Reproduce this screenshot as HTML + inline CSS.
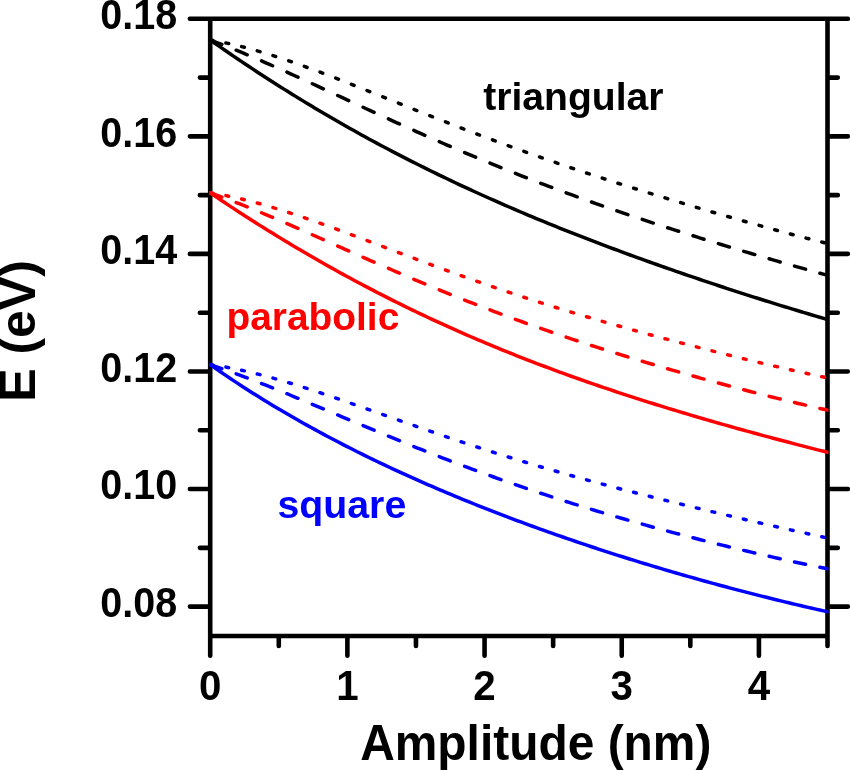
<!DOCTYPE html>
<html><head><meta charset="utf-8"><title>E vs Amplitude</title>
<style>
html,body{margin:0;padding:0;background:#fff;}
body{width:850px;height:770px;overflow:hidden;}
svg{display:block;}
text{font-family:"Liberation Sans",sans-serif;font-weight:bold;}
</style></head><body>
<svg width="850" height="770" viewBox="0 0 850 770">
<rect width="850" height="770" fill="#fff"/>
<defs><clipPath id="cp"><rect x="209.2" y="0" width="619.3" height="770"/></clipPath></defs>
<path d="M210.2,18.8 V655.7 M827.5,18.8 V645.9 M189.89999999999998,18.8 H847.8 M210.2,636.0 H827.5 M189.90,606.61 H210.2 M827.5,606.61 H847.80 M199.90,547.83 H210.2 M827.5,547.83 H837.80 M189.90,489.05 H210.2 M827.5,489.05 H847.80 M199.90,430.27 H210.2 M827.5,430.27 H837.80 M189.90,371.49 H210.2 M827.5,371.49 H847.80 M199.90,312.70 H210.2 M827.5,312.70 H837.80 M189.90,253.92 H210.2 M827.5,253.92 H847.80 M199.90,195.14 H210.2 M827.5,195.14 H837.80 M189.90,136.36 H210.2 M827.5,136.36 H847.80 M199.90,77.58 H210.2 M827.5,77.58 H837.80 M278.79,636.0 V645.90 M347.38,636.0 V655.70 M415.97,636.0 V645.90 M484.56,636.0 V655.70 M553.14,636.0 V645.90 M621.73,636.0 V655.70 M690.32,636.0 V645.90 M758.91,636.0 V655.70" fill="none" stroke="#000" stroke-width="4.6" stroke-linecap="round" stroke-linejoin="round"/>
<g fill="none" stroke-width="3.5" stroke-linecap="round" stroke-linejoin="round" clip-path="url(#cp)">
<path d="M210.20,40.01 L214.08,42.73 L217.96,45.44 L221.85,48.13 L225.73,50.81 L229.61,53.47 L233.49,56.12 L237.38,58.75 L241.26,61.36 L245.14,63.97 L249.02,66.55 L252.91,69.12 L256.79,71.68 L260.67,74.21 L264.55,76.74 L268.44,79.25 L272.32,81.74 L276.20,84.22 L280.08,86.68 L283.97,89.13 L287.85,91.56 L291.73,93.97 L295.61,96.37 L299.49,98.76 L303.38,101.13 L307.26,103.49 L311.14,105.83 L315.02,108.15 L318.91,110.46 L322.79,112.76 L326.67,115.04 L330.55,117.30 L334.44,119.56 L338.32,121.79 L342.20,124.01 L346.08,126.22 L349.97,128.41 L353.85,130.59 L357.73,132.76 L361.61,134.91 L365.50,137.04 L369.38,139.17 L373.26,141.27 L377.14,143.37 L381.03,145.45 L384.91,147.51 L388.79,149.57 L392.67,151.60 L396.55,153.63 L400.44,155.64 L404.32,157.64 L408.20,159.63 L412.08,161.60 L415.97,163.56 L419.85,165.51 L423.73,167.44 L427.61,169.36 L431.50,171.27 L435.38,173.17 L439.26,175.06 L443.14,176.93 L447.03,178.79 L450.91,180.64 L454.79,182.47 L458.67,184.30 L462.56,186.11 L466.44,187.91 L470.32,189.70 L474.20,191.48 L478.08,193.25 L481.97,195.01 L485.85,196.75 L489.73,198.49 L493.61,200.21 L497.50,201.93 L501.38,203.63 L505.26,205.32 L509.14,207.01 L513.03,208.68 L516.91,210.34 L520.79,211.99 L524.67,213.64 L528.56,215.27 L532.44,216.90 L536.32,218.51 L540.20,220.12 L544.09,221.71 L547.97,223.30 L551.85,224.88 L555.73,226.45 L559.62,228.01 L563.50,229.56 L567.38,231.11 L571.26,232.64 L575.14,234.17 L579.03,235.69 L582.91,237.20 L586.79,238.70 L590.67,240.20 L594.56,241.69 L598.44,243.17 L602.32,244.64 L606.20,246.10 L610.09,247.56 L613.97,249.01 L617.85,250.45 L621.73,251.89 L625.62,253.32 L629.50,254.74 L633.38,256.16 L637.26,257.57 L641.15,258.97 L645.03,260.37 L648.91,261.76 L652.79,263.14 L656.67,264.52 L660.56,265.89 L664.44,267.25 L668.32,268.61 L672.20,269.96 L676.09,271.31 L679.97,272.65 L683.85,273.99 L687.73,275.31 L691.62,276.64 L695.50,277.96 L699.38,279.27 L703.26,280.57 L707.15,281.87 L711.03,283.17 L714.91,284.46 L718.79,285.74 L722.68,287.02 L726.56,288.30 L730.44,289.57 L734.32,290.83 L738.21,292.09 L742.09,293.34 L745.97,294.58 L749.85,295.83 L753.73,297.06 L757.62,298.29 L761.50,299.52 L765.38,300.74 L769.26,301.95 L773.15,303.16 L777.03,304.37 L780.91,305.56 L784.79,306.76 L788.68,307.95 L792.56,309.13 L796.44,310.30 L800.32,311.47 L804.21,312.64 L808.09,313.80 L811.97,314.95 L815.85,316.10 L819.74,317.24 L823.62,318.38 L827.50,319.51" stroke="#000"/>
<path d="M210.80,40.22 L214.47,41.60 L218.13,43.01 L221.80,44.43 M236.18,50.19 L239.85,51.70 L243.51,53.23 L247.18,54.77 M261.56,60.93 L265.23,62.53 L268.89,64.13 L272.56,65.75 M286.94,72.18 L290.61,73.84 L294.27,75.51 L297.94,77.18 M312.32,83.77 L315.99,85.46 L319.65,87.15 L323.32,88.85 M337.70,95.51 L341.37,97.21 L345.03,98.92 L348.70,100.62 M363.08,107.28 L366.75,108.97 L370.41,110.66 L374.08,112.35 M388.46,118.94 L392.13,120.62 L395.79,122.29 L399.46,123.95 M413.84,130.43 L417.51,132.07 L421.17,133.70 L424.84,135.33 M439.22,141.66 L442.89,143.25 L446.55,144.84 L450.22,146.43 M464.60,152.58 L468.27,154.13 L471.93,155.67 L475.60,157.21 M489.98,163.17 L493.65,164.67 L497.31,166.16 L500.98,167.64 M515.36,173.40 L519.03,174.85 L522.69,176.29 L526.36,177.72 M540.74,183.27 L544.41,184.67 L548.07,186.06 L551.74,187.44 M566.12,192.79 L569.79,194.14 L573.45,195.48 L577.12,196.81 M591.50,201.98 L595.17,203.28 L598.83,204.57 L602.50,205.86 M616.88,210.84 L620.55,212.10 L624.21,213.35 L627.88,214.59 M642.26,219.41 L645.93,220.63 L649.59,221.84 L653.26,223.05 M667.64,227.72 L671.31,228.90 L674.97,230.08 L678.64,231.25 M693.02,235.79 L696.69,236.94 L700.35,238.08 L704.02,239.22 M718.40,243.65 L722.07,244.76 L725.73,245.88 L729.40,246.99 M743.78,251.31 L747.45,252.40 L751.11,253.48 L754.78,254.57 M769.16,258.78 L772.83,259.85 L776.49,260.91 L780.16,261.97 M794.54,266.09 L798.21,267.13 L801.87,268.16 L805.54,269.19 M819.92,273.20 L822.45,273.90 L824.97,274.60 L827.50,275.29" stroke="#000"/>
<path d="M210.25,40.01 L211.15,40.16 L212.05,40.31 L212.95,40.46 M225.93,42.95 L226.83,43.14 L227.73,43.34 L228.63,43.53 M241.61,46.60 L242.51,46.83 L243.41,47.06 L244.31,47.30 M257.29,50.86 L258.19,51.12 L259.09,51.39 L259.99,51.65 M272.97,55.63 L273.87,55.92 L274.77,56.21 L275.67,56.50 M288.65,60.82 L289.55,61.13 L290.45,61.44 L291.35,61.75 M304.33,66.35 L305.23,66.67 L306.13,67.00 L307.03,67.33 M320.01,72.14 L320.91,72.48 L321.81,72.82 L322.71,73.16 M335.69,78.14 L336.59,78.49 L337.49,78.84 L338.39,79.19 M351.37,84.29 L352.27,84.65 L353.17,85.00 L354.07,85.36 M367.05,90.53 L367.95,90.90 L368.85,91.26 L369.75,91.62 M382.73,96.83 L383.63,97.19 L384.53,97.56 L385.43,97.92 M398.41,103.14 L399.31,103.51 L400.21,103.87 L401.11,104.23 M414.09,109.44 L414.99,109.80 L415.89,110.16 L416.79,110.52 M429.77,115.69 L430.67,116.05 L431.57,116.41 L432.47,116.76 M445.45,121.88 L446.35,122.23 L447.25,122.59 L448.15,122.94 M461.13,127.99 L462.03,128.33 L462.93,128.68 L463.83,129.03 M476.81,134.00 L477.71,134.34 L478.61,134.68 L479.51,135.02 M492.49,139.90 L493.39,140.24 L494.29,140.58 L495.19,140.91 M508.17,145.70 L509.07,146.03 L509.97,146.36 L510.87,146.69 M523.85,151.38 L524.75,151.71 L525.65,152.03 L526.55,152.35 M539.53,156.95 L540.43,157.27 L541.33,157.59 L542.23,157.90 M555.21,162.41 L556.11,162.72 L557.01,163.03 L557.91,163.34 M570.89,167.76 L571.79,168.06 L572.69,168.37 L573.59,168.67 M586.57,173.01 L587.47,173.30 L588.37,173.60 L589.27,173.90 M602.25,178.15 L603.15,178.45 L604.05,178.74 L604.95,179.03 M617.93,183.21 L618.83,183.50 L619.73,183.78 L620.63,184.07 M633.61,188.18 L634.51,188.46 L635.41,188.74 L636.31,189.03 M649.29,193.07 L650.19,193.35 L651.09,193.63 L651.99,193.91 M664.97,197.89 L665.87,198.16 L666.77,198.44 L667.67,198.71 M680.65,202.64 L681.55,202.91 L682.45,203.18 L683.35,203.45 M696.33,207.32 L697.23,207.59 L698.13,207.86 L699.03,208.12 M712.01,211.95 L712.91,212.21 L713.81,212.47 L714.71,212.74 M727.69,216.50 L728.59,216.76 L729.49,217.02 L730.39,217.28 M743.37,220.99 L744.27,221.25 L745.17,221.50 L746.07,221.76 M759.05,225.41 L759.95,225.66 L760.85,225.91 L761.75,226.16 M774.73,229.74 L775.63,229.99 L776.53,230.23 L777.43,230.48 M790.41,233.98 L791.31,234.22 L792.21,234.46 L793.11,234.69 M806.09,238.10 L806.99,238.33 L807.89,238.56 L808.79,238.79 M821.77,242.08 L822.67,242.31 L823.57,242.53 L824.47,242.75" stroke="#000"/>
<path d="M210.20,192.90 L214.08,195.52 L217.96,198.13 L221.85,200.72 L225.73,203.30 L229.61,205.86 L233.49,208.41 L237.38,210.95 L241.26,213.47 L245.14,215.98 L249.02,218.47 L252.91,220.94 L256.79,223.41 L260.67,225.86 L264.55,228.29 L268.44,230.71 L272.32,233.11 L276.20,235.50 L280.08,237.87 L283.97,240.23 L287.85,242.58 L291.73,244.91 L295.61,247.22 L299.49,249.52 L303.38,251.81 L307.26,254.08 L311.14,256.33 L315.02,258.58 L318.91,260.80 L322.79,263.01 L326.67,265.21 L330.55,267.39 L334.44,269.56 L338.32,271.71 L342.20,273.85 L346.08,275.97 L349.97,278.08 L353.85,280.17 L357.73,282.25 L361.61,284.32 L365.50,286.37 L369.38,288.40 L373.26,290.42 L377.14,292.43 L381.03,294.42 L384.91,296.40 L388.79,298.37 L392.67,300.32 L396.55,302.25 L400.44,304.18 L404.32,306.09 L408.20,307.98 L412.08,309.86 L415.97,311.73 L419.85,313.58 L423.73,315.42 L427.61,317.25 L431.50,319.07 L435.38,320.87 L439.26,322.65 L443.14,324.43 L447.03,326.19 L450.91,327.94 L454.79,329.67 L458.67,331.39 L462.56,333.10 L466.44,334.80 L470.32,336.49 L474.20,338.16 L478.08,339.82 L481.97,341.47 L485.85,343.10 L489.73,344.73 L493.61,346.34 L497.50,347.94 L501.38,349.53 L505.26,351.10 L509.14,352.67 L513.03,354.22 L516.91,355.77 L520.79,357.30 L524.67,358.82 L528.56,360.33 L532.44,361.83 L536.32,363.32 L540.20,364.79 L544.09,366.26 L547.97,367.72 L551.85,369.16 L555.73,370.60 L559.62,372.03 L563.50,373.44 L567.38,374.85 L571.26,376.25 L575.14,377.63 L579.03,379.01 L582.91,380.38 L586.79,381.74 L590.67,383.09 L594.56,384.43 L598.44,385.76 L602.32,387.08 L606.20,388.40 L610.09,389.70 L613.97,391.00 L617.85,392.29 L621.73,393.57 L625.62,394.84 L629.50,396.11 L633.38,397.36 L637.26,398.61 L641.15,399.85 L645.03,401.09 L648.91,402.31 L652.79,403.53 L656.67,404.74 L660.56,405.95 L664.44,407.15 L668.32,408.34 L672.20,409.52 L676.09,410.70 L679.97,411.87 L683.85,413.03 L687.73,414.19 L691.62,415.34 L695.50,416.48 L699.38,417.62 L703.26,418.75 L707.15,419.88 L711.03,421.00 L714.91,422.12 L718.79,423.23 L722.68,424.33 L726.56,425.43 L730.44,426.52 L734.32,427.61 L738.21,428.69 L742.09,429.77 L745.97,430.84 L749.85,431.90 L753.73,432.97 L757.62,434.02 L761.50,435.08 L765.38,436.12 L769.26,437.17 L773.15,438.20 L777.03,439.24 L780.91,440.27 L784.79,441.29 L788.68,442.31 L792.56,443.33 L796.44,444.34 L800.32,445.35 L804.21,446.35 L808.09,447.35 L811.97,448.35 L815.85,449.34 L819.74,450.33 L823.62,451.31 L827.50,452.29" stroke="#f00"/>
<path d="M210.80,193.10 L214.47,194.40 L218.13,195.72 L221.80,197.06 M236.18,202.51 L239.85,203.95 L243.51,205.40 L247.18,206.87 M261.56,212.76 L265.23,214.30 L268.89,215.84 L272.56,217.40 M286.94,223.59 L290.61,225.18 L294.27,226.78 L297.94,228.39 M312.32,234.74 L315.99,236.37 L319.65,237.99 L323.32,239.63 M337.70,246.03 L341.37,247.66 L345.03,249.29 L348.70,250.92 M363.08,257.30 L366.75,258.92 L370.41,260.53 L374.08,262.14 M388.46,268.42 L392.13,270.01 L395.79,271.59 L399.46,273.17 M413.84,279.30 L417.51,280.84 L421.17,282.38 L424.84,283.92 M439.22,289.86 L442.89,291.36 L446.55,292.85 L450.22,294.34 M464.60,300.08 L468.27,301.52 L471.93,302.96 L475.60,304.38 M489.98,309.91 L493.65,311.30 L497.31,312.68 L500.98,314.05 M515.36,319.35 L519.03,320.69 L522.69,322.01 L526.36,323.33 M540.74,328.42 L544.41,329.69 L548.07,330.97 L551.74,332.23 M566.12,337.11 L569.79,338.34 L573.45,339.56 L577.12,340.78 M591.50,345.47 L595.17,346.65 L598.83,347.83 L602.50,348.99 M616.88,353.51 L620.55,354.65 L624.21,355.78 L627.88,356.91 M642.26,361.27 L645.93,362.37 L649.59,363.46 L653.26,364.55 M667.64,368.76 L671.31,369.83 L674.97,370.88 L678.64,371.94 M693.02,376.02 L696.69,377.04 L700.35,378.07 L704.02,379.08 M718.40,383.03 L722.07,384.03 L725.73,385.02 L729.40,386.00 M743.78,389.81 L747.45,390.77 L751.11,391.72 L754.78,392.67 M769.16,396.33 L772.83,397.25 L776.49,398.16 L780.16,399.07 M794.54,402.56 L798.21,403.43 L801.87,404.29 L805.54,405.15 M819.92,408.42 L822.45,408.99 L824.97,409.54 L827.50,410.09" stroke="#f00"/>
<path d="M210.25,192.91 L211.15,193.04 L212.05,193.18 L212.95,193.32 M225.93,195.63 L226.83,195.80 L227.73,195.99 L228.63,196.17 M241.61,199.05 L242.51,199.26 L243.41,199.48 L244.31,199.70 M257.29,203.06 L258.19,203.30 L259.09,203.55 L259.99,203.80 M272.97,207.56 L273.87,207.84 L274.77,208.11 L275.67,208.38 M288.65,212.48 L289.55,212.77 L290.45,213.06 L291.35,213.36 M304.33,217.72 L305.23,218.03 L306.13,218.34 L307.03,218.65 M320.01,223.21 L320.91,223.53 L321.81,223.85 L322.71,224.18 M335.69,228.89 L336.59,229.23 L337.49,229.56 L338.39,229.89 M351.37,234.71 L352.27,235.05 L353.17,235.39 L354.07,235.72 M367.05,240.61 L367.95,240.95 L368.85,241.29 L369.75,241.63 M382.73,246.55 L383.63,246.89 L384.53,247.23 L385.43,247.57 M398.41,252.49 L399.31,252.83 L400.21,253.17 L401.11,253.51 M414.09,258.40 L414.99,258.73 L415.89,259.07 L416.79,259.41 M429.77,264.25 L430.67,264.58 L431.57,264.91 L432.47,265.25 M445.45,270.02 L446.35,270.34 L447.25,270.67 L448.15,271.00 M461.13,275.69 L462.03,276.01 L462.93,276.33 L463.83,276.66 M476.81,281.25 L477.71,281.57 L478.61,281.88 L479.51,282.20 M492.49,286.70 L493.39,287.01 L494.29,287.31 L495.19,287.62 M508.17,292.02 L509.07,292.32 L509.97,292.62 L510.87,292.92 M523.85,297.21 L524.75,297.50 L525.65,297.80 L526.55,298.09 M539.53,302.27 L540.43,302.56 L541.33,302.85 L542.23,303.13 M555.21,307.21 L556.11,307.49 L557.01,307.77 L557.91,308.05 M570.89,312.02 L571.79,312.30 L572.69,312.57 L573.59,312.84 M586.57,316.72 L587.47,316.99 L588.37,317.25 L589.27,317.52 M602.25,321.31 L603.15,321.57 L604.05,321.83 L604.95,322.09 M617.93,325.79 L618.83,326.05 L619.73,326.30 L620.63,326.55 M633.61,330.18 L634.51,330.43 L635.41,330.68 L636.31,330.92 M649.29,334.48 L650.19,334.72 L651.09,334.96 L651.99,335.21 M664.97,338.69 L665.87,338.93 L666.77,339.17 L667.67,339.41 M680.65,342.83 L681.55,343.07 L682.45,343.30 L683.35,343.54 M696.33,346.90 L697.23,347.13 L698.13,347.36 L699.03,347.59 M712.01,350.90 L712.91,351.12 L713.81,351.35 L714.71,351.58 M727.69,354.83 L728.59,355.05 L729.49,355.27 L730.39,355.50 M743.37,358.69 L744.27,358.91 L745.17,359.13 L746.07,359.35 M759.05,362.48 L759.95,362.69 L760.85,362.91 L761.75,363.12 M774.73,366.19 L775.63,366.40 L776.53,366.61 L777.43,366.82 M790.41,369.80 L791.31,370.01 L792.21,370.21 L793.11,370.42 M806.09,373.31 L806.99,373.51 L807.89,373.71 L808.79,373.91 M821.77,376.70 L822.67,376.89 L823.57,377.08 L824.47,377.27" stroke="#f00"/>
<path d="M210.20,364.70 L214.08,367.41 L217.96,370.10 L221.85,372.76 L225.73,375.40 L229.61,378.01 L233.49,380.59 L237.38,383.15 L241.26,385.69 L245.14,388.20 L249.02,390.69 L252.91,393.15 L256.79,395.59 L260.67,398.01 L264.55,400.41 L268.44,402.78 L272.32,405.13 L276.20,407.46 L280.08,409.77 L283.97,412.06 L287.85,414.33 L291.73,416.57 L295.61,418.80 L299.49,421.01 L303.38,423.20 L307.26,425.37 L311.14,427.52 L315.02,429.65 L318.91,431.77 L322.79,433.86 L326.67,435.94 L330.55,438.00 L334.44,440.04 L338.32,442.07 L342.20,444.08 L346.08,446.08 L349.97,448.05 L353.85,450.02 L357.73,451.96 L361.61,453.89 L365.50,455.81 L369.38,457.71 L373.26,459.59 L377.14,461.46 L381.03,463.32 L384.91,465.16 L388.79,466.99 L392.67,468.80 L396.55,470.60 L400.44,472.39 L404.32,474.16 L408.20,475.92 L412.08,477.67 L415.97,479.41 L419.85,481.13 L423.73,482.84 L427.61,484.53 L431.50,486.22 L435.38,487.89 L439.26,489.55 L443.14,491.20 L447.03,492.84 L450.91,494.47 L454.79,496.09 L458.67,497.69 L462.56,499.29 L466.44,500.87 L470.32,502.44 L474.20,504.00 L478.08,505.55 L481.97,507.10 L485.85,508.63 L489.73,510.15 L493.61,511.66 L497.50,513.16 L501.38,514.65 L505.26,516.13 L509.14,517.61 L513.03,519.07 L516.91,520.52 L520.79,521.97 L524.67,523.40 L528.56,524.83 L532.44,526.24 L536.32,527.65 L540.20,529.05 L544.09,530.44 L547.97,531.82 L551.85,533.20 L555.73,534.56 L559.62,535.92 L563.50,537.27 L567.38,538.61 L571.26,539.94 L575.14,541.26 L579.03,542.58 L582.91,543.89 L586.79,545.19 L590.67,546.48 L594.56,547.76 L598.44,549.04 L602.32,550.31 L606.20,551.57 L610.09,552.82 L613.97,554.06 L617.85,555.30 L621.73,556.53 L625.62,557.75 L629.50,558.97 L633.38,560.18 L637.26,561.38 L641.15,562.57 L645.03,563.76 L648.91,564.94 L652.79,566.11 L656.67,567.27 L660.56,568.43 L664.44,569.58 L668.32,570.72 L672.20,571.86 L676.09,572.99 L679.97,574.11 L683.85,575.22 L687.73,576.33 L691.62,577.43 L695.50,578.53 L699.38,579.61 L703.26,580.69 L707.15,581.77 L711.03,582.83 L714.91,583.90 L718.79,584.95 L722.68,586.00 L726.56,587.04 L730.44,588.07 L734.32,589.09 L738.21,590.11 L742.09,591.13 L745.97,592.13 L749.85,593.13 L753.73,594.13 L757.62,595.12 L761.50,596.10 L765.38,597.07 L769.26,598.04 L773.15,599.00 L777.03,599.95 L780.91,600.90 L784.79,601.84 L788.68,602.78 L792.56,603.70 L796.44,604.63 L800.32,605.54 L804.21,606.45 L808.09,607.36 L811.97,608.25 L815.85,609.14 L819.74,610.03 L823.62,610.91 L827.50,611.78" stroke="#00f"/>
<path d="M210.80,364.89 L214.47,366.12 L218.13,367.37 L221.80,368.64 M236.18,373.81 L239.85,375.17 L243.51,376.54 L247.18,377.93 M261.56,383.51 L265.23,384.96 L268.89,386.42 L272.56,387.89 M286.94,393.74 L290.61,395.25 L294.27,396.76 L297.94,398.28 M312.32,404.28 L315.99,405.82 L319.65,407.36 L323.32,408.91 M337.70,414.97 L341.37,416.52 L345.03,418.06 L348.70,419.61 M363.08,425.65 L366.75,427.18 L370.41,428.71 L374.08,430.24 M388.46,436.20 L392.13,437.71 L395.79,439.21 L399.46,440.71 M413.84,446.54 L417.51,448.01 L421.17,449.47 L424.84,450.93 M439.22,456.59 L442.89,458.02 L446.55,459.43 L450.22,460.85 M464.60,466.31 L468.27,467.68 L471.93,469.05 L475.60,470.41 M489.98,475.67 L493.65,476.99 L497.31,478.30 L500.98,479.60 M515.36,484.65 L519.03,485.91 L522.69,487.17 L526.36,488.42 M540.74,493.25 L544.41,494.46 L548.07,495.67 L551.74,496.86 M566.12,501.49 L569.79,502.65 L573.45,503.80 L577.12,504.94 M591.50,509.37 L595.17,510.48 L598.83,511.58 L602.50,512.68 M616.88,516.92 L620.55,517.99 L624.21,519.04 L627.88,520.10 M642.26,524.16 L645.93,525.18 L649.59,526.20 L653.26,527.21 M667.64,531.12 L671.31,532.10 L674.97,533.08 L678.64,534.05 M693.02,537.80 L696.69,538.75 L700.35,539.69 L704.02,540.62 M718.40,544.23 L722.07,545.14 L725.73,546.04 L729.40,546.94 M743.78,550.41 L747.45,551.28 L751.11,552.15 L754.78,553.01 M769.16,556.33 L772.83,557.16 L776.49,557.99 L780.16,558.81 M794.54,561.96 L798.21,562.75 L801.87,563.53 L805.54,564.31 M819.92,567.27 L822.45,567.78 L824.97,568.29 L827.50,568.79" stroke="#00f"/>
<path d="M210.25,364.71 L211.15,364.83 L212.05,364.95 L212.95,365.07 M225.93,367.14 L226.83,367.30 L227.73,367.46 L228.63,367.63 M241.61,370.25 L242.51,370.44 L243.41,370.64 L244.31,370.84 M257.29,373.94 L258.19,374.16 L259.09,374.39 L259.99,374.62 M272.97,378.11 L273.87,378.36 L274.77,378.62 L275.67,378.87 M288.65,382.68 L289.55,382.95 L290.45,383.23 L291.35,383.50 M304.33,387.57 L305.23,387.85 L306.13,388.14 L307.03,388.43 M320.01,392.70 L320.91,393.00 L321.81,393.30 L322.71,393.60 M335.69,398.02 L336.59,398.33 L337.49,398.64 L338.39,398.95 M351.37,403.46 L352.27,403.78 L353.17,404.09 L354.07,404.41 M367.05,408.98 L367.95,409.30 L368.85,409.62 L369.75,409.94 M382.73,414.54 L383.63,414.86 L384.53,415.18 L385.43,415.50 M398.41,420.10 L399.31,420.42 L400.21,420.73 L401.11,421.05 M414.09,425.62 L414.99,425.94 L415.89,426.25 L416.79,426.57 M429.77,431.09 L430.67,431.40 L431.57,431.71 L432.47,432.02 M445.45,436.47 L446.35,436.78 L447.25,437.08 L448.15,437.39 M461.13,441.76 L462.03,442.06 L462.93,442.36 L463.83,442.66 M476.81,446.94 L477.71,447.23 L478.61,447.53 L479.51,447.82 M492.49,452.00 L493.39,452.29 L494.29,452.57 L495.19,452.86 M508.17,456.94 L509.07,457.22 L509.97,457.50 L510.87,457.78 M523.85,461.76 L524.75,462.03 L525.65,462.30 L526.55,462.58 M539.53,466.45 L540.43,466.72 L541.33,466.98 L542.23,467.25 M555.21,471.03 L556.11,471.28 L557.01,471.54 L557.91,471.80 M570.89,475.48 L571.79,475.74 L572.69,475.99 L573.59,476.24 M586.57,479.83 L587.47,480.08 L588.37,480.32 L589.27,480.57 M602.25,484.08 L603.15,484.32 L604.05,484.56 L604.95,484.80 M617.93,488.23 L618.83,488.47 L619.73,488.70 L620.63,488.94 M633.61,492.30 L634.51,492.53 L635.41,492.76 L636.31,492.99 M649.29,496.29 L650.19,496.52 L651.09,496.75 L651.99,496.97 M664.97,500.22 L665.87,500.44 L666.77,500.67 L667.67,500.89 M680.65,504.09 L681.55,504.31 L682.45,504.53 L683.35,504.75 M696.33,507.91 L697.23,508.13 L698.13,508.34 L699.03,508.56 M712.01,511.68 L712.91,511.89 L713.81,512.11 L714.71,512.32 M727.69,515.41 L728.59,515.62 L729.49,515.83 L730.39,516.05 M743.37,519.10 L744.27,519.31 L745.17,519.52 L746.07,519.73 M759.05,522.74 L759.95,522.95 L760.85,523.16 L761.75,523.37 M774.73,526.34 L775.63,526.55 L776.53,526.75 L777.43,526.96 M790.41,529.89 L791.31,530.09 L792.21,530.29 L793.11,530.49 M806.09,533.37 L806.99,533.57 L807.89,533.77 L808.79,533.97 M821.77,536.78 L822.67,536.97 L823.57,537.16 L824.47,537.36" stroke="#00f"/>
</g>
<g fill="#000">
<text transform="translate(177.2,616.81) scale(1,1.085)" text-anchor="end" font-size="39.5">0.08</text>
<text transform="translate(177.2,499.25) scale(1,1.085)" text-anchor="end" font-size="39.5">0.10</text>
<text transform="translate(177.2,381.69) scale(1,1.085)" text-anchor="end" font-size="39.5">0.12</text>
<text transform="translate(177.2,264.12) scale(1,1.085)" text-anchor="end" font-size="39.5">0.14</text>
<text transform="translate(177.2,146.56) scale(1,1.085)" text-anchor="end" font-size="39.5">0.16</text>
<text transform="translate(177.2,29.00) scale(1,1.085)" text-anchor="end" font-size="39.5">0.18</text>
<text transform="translate(210.20,699.9) scale(1.02,1.085)" text-anchor="middle" font-size="39.5">0</text>
<text transform="translate(347.38,699.9) scale(1.02,1.085)" text-anchor="middle" font-size="39.5">1</text>
<text transform="translate(484.56,699.9) scale(1.02,1.085)" text-anchor="middle" font-size="39.5">2</text>
<text transform="translate(621.73,699.9) scale(1.02,1.085)" text-anchor="middle" font-size="39.5">3</text>
<text transform="translate(758.91,699.9) scale(1.02,1.085)" text-anchor="middle" font-size="39.5">4</text>
<text id="xt" transform="translate(360.2,760) scale(0.958,1)" font-size="50">Amplitude (nm)</text>
<text id="yt" transform="translate(35.1,401.8) rotate(-90)" font-size="50">E (eV)</text>
<text id="tri" transform="translate(483.2,109.6) scale(0.99,1)" font-size="39.5">triangular</text>
</g>
<text id="par" transform="translate(226.4,330) scale(0.985,1)" font-size="39.5" fill="#f00">parabolic</text>
<text id="squ" transform="translate(277.4,518.3) scale(0.995,1)" font-size="39.5" fill="#00f">square</text>
</svg>
</body></html>
